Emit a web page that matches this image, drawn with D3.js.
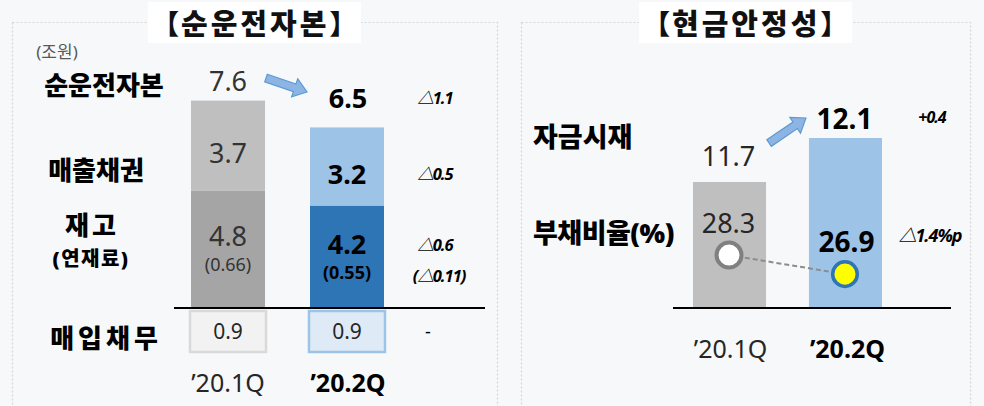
<!DOCTYPE html>
<html><head><meta charset="utf-8">
<script src="https://cdn.jsdelivr.net/npm/d3@7"></script>
<style>
html,body{margin:0;padding:0;background:#f7f8fa;}
svg{display:block;font-family:"Noto Sans","Noto Sans CJK KR",sans-serif;}
</style></head>
<body><svg id="c" width="984" height="406"></svg>
<script>
// ---- data ----
const periods = ["’20.1Q", "’20.2Q"];
const netWorkingCapital = [7.6, 6.5];
const receivables = [3.7, 3.2];
const inventory = [4.8, 4.2];
const rawMaterials = [0.66, 0.55];
const payables = [0.9, 0.9];
const nwcChanges = ["△1.1", "△0.5", "△0.6", "(△0.11)", "-"];
const cashHoldings = [11.7, 12.1];
const debtRatio = [28.3, 26.9];
const stabilityChanges = ["+0.4", "△1.4%p"];
const leftTitle = "순운전자본";
const rightTitle = "현금안정성";
const leftRowLabels = ["순운전자본", "매출채권", "재고", "(연재료)", "매입채무"];
const rightRowLabels = ["자금시재", "부채비율(%)"];
const unitLabel = "(조원)";

const svg = d3.select("#c");
const C = {lg:"#bfbfbf", dg:"#a5a5a5", lb:"#9dc3e6", db:"#2e75b6", txt:"#262626"};
const KW = 900;

function style(sel, o) {
  return sel.attr("text-anchor", o.anchor || "middle")
    .attr("dominant-baseline", "central")
    .attr("font-size", o.size || 24)
    .attr("font-weight", o.weight || (o.bold ? 700 : 400))
    .attr("font-style", o.italic ? "italic" : "normal")
    .attr("letter-spacing", o.ls || 0)
    .attr("fill", o.fill || C.txt);
}
function text(g, x, y, s, o = {}) {
  return style(g.append("text").attr("x", x).attr("y", y).text(s), o);
}
function text2(g, x, lines) {
  const t = g.append("text").attr("dominant-baseline", "central");
  lines.forEach(l => style(t.append("tspan").attr("x", x + (l.dx || 0)).attr("y", l.y).text(l.s), l));
  return t;
}

// panels
[[12.5, 485], [521.5, 449]].forEach(([x, w]) => {
  svg.append("rect").attr("x", x).attr("y", 22.5).attr("width", w).attr("height", 400)
    .attr("fill", "#f7f8fa").attr("stroke", "#d4d6da").attr("stroke-width", 1.2)
    .attr("stroke-dasharray", "2,2");
});
function title(boxX, startX, s) {
  svg.append("rect").attr("x", boxX).attr("y", 2).attr("width", 213).attr("height", 41).attr("fill", "#fff");
  const o = {size: 27, weight: KW, fill: "#111"};
  text2(svg, startX, [
    Object.assign({y: 23, s: "【", dx: -15.5}, o),
    Object.assign({y: 22.5, s: s, dx: 0}, o, {anchor: "start", size: 29, ls: 3}),
    Object.assign({y: 23, s: "】", dx: 162}, o)
  ]);
}
title(148, 181, leftTitle);
title(639, 672, rightTitle);

// ---------- left panel ----------
const baseY = 308;
const xL = d3.scaleBand().domain(periods).range([191, 384]).paddingInner(0.378).paddingOuter(0);
const yL = d3.scaleLinear().domain([0, 8.5]).range([baseY, baseY - 8.5 * 24.4]);
const bw = xL.bandwidth();
const gL = svg.append("g");

const stacks = periods.map((p, i) => ({p, i, inv: inventory[i], rec: receivables[i]}));
gL.selectAll("rect.inv").data(stacks).join("rect").attr("class", "inv")
  .attr("x", d => xL(d.p)).attr("width", bw)
  .attr("y", d => yL(d.inv)).attr("height", d => yL(0) - yL(d.inv))
  .attr("fill", d => d.i === 0 ? C.dg : C.db);
gL.selectAll("rect.rec").data(stacks).join("rect").attr("class", "rec")
  .attr("x", d => xL(d.p)).attr("width", bw)
  .attr("y", d => yL(d.inv + d.rec)).attr("height", d => yL(d.inv) - yL(d.inv + d.rec))
  .attr("fill", d => d.i === 0 ? C.lg : C.lb);

gL.append("line").attr("x1", 174).attr("x2", 485).attr("y1", baseY).attr("y2", baseY)
  .attr("stroke", "#000").attr("stroke-width", 2);

const payY = 311, payH = 41;
gL.selectAll("rect.pay").data(stacks).join("rect").attr("class", "pay")
  .attr("x", d => xL(d.p) - 1).attr("width", bw + 2)
  .attr("y", payY).attr("height", payH)
  .attr("fill", d => d.i === 0 ? "#f2f2f2" : "#deebf7")
  .attr("stroke", d => d.i === 0 ? "#d9d9d9" : "#9dc3e6").attr("stroke-width", 2.5);

stacks.forEach(d => {
  const cx = xL(d.p) + bw / 2;
  const bold = d.i === 1;
  const fill = bold ? "#000" : "#333";
  text(gL, cx, payY + payH / 2 - 1, payables[d.i].toFixed(1), {size: 21, fill: "#262626"});
  const recMid = (yL(d.inv) + yL(d.inv + d.rec)) / 2 + 7;
  text(gL, cx, recMid, d.rec.toFixed(1), {size: 27, bold, fill});
  const invMid = (yL(0) + yL(d.inv)) / 2;
  text2(gL, cx, [
    {y: invMid - 14, s: d.inv.toFixed(1), size: 27, bold, fill},
    {y: invMid + 15, s: "(" + rawMaterials[d.i].toFixed(2) + ")", size: 18, bold, fill}
  ]);
  text(gL, cx + (bold ? 1 : 0), 382, d.p, {size: 25, bold, fill: bold ? "#000" : "#262626"});
});
text(gL, xL(periods[0]) + bw / 2, yL(inventory[0] + receivables[0]) - 20, netWorkingCapital[0].toFixed(1), {size: 27, fill: "#333"});
text(gL, xL(periods[1]) + bw / 2 + 1, 97, netWorkingCapital[1].toFixed(1), {size: 27, bold: true, fill: "#000"});

function arrow(g, x1, y1, x2, y2) {
  const len = Math.hypot(x2 - x1, y2 - y1), ang = Math.atan2(y2 - y1, x2 - x1) * 180 / Math.PI;
  const sh = 4, hl = 13, hw = 9.5;
  const pts = [[0, -sh], [len - hl, -sh], [len - hl, -hw], [len, 0], [len - hl, hw], [len - hl, sh], [0, sh]];
  g.append("path").attr("d", d3.line()(pts) + "Z")
    .attr("transform", `translate(${x1},${y1}) rotate(${ang})`)
    .attr("fill", "#8db4e2").attr("stroke", "#5b9bd5").attr("stroke-width", 1.2);
}
arrow(gL, xL(periods[0]) + bw + 1, 78, xL(periods[1]) - 3, 92);

// row labels
text(gL, 104, 85, leftRowLabels[0], {size: 26, weight: KW, fill: "#000"});
text(gL, 96, 170, leftRowLabels[1], {size: 26, weight: KW, fill: "#000"});
text2(gL, 90, [
  {y: 225, s: leftRowLabels[2], size: 26, weight: KW, fill: "#000", ls: 3, dx: 2},
  {y: 258, s: leftRowLabels[3], size: 20, weight: KW, fill: "#000", ls: 1.5, dx: 1}
]);
text(gL, 106, 338, leftRowLabels[4], {size: 26, weight: KW, fill: "#000", ls: 4});
text(gL, 57, 51, unitLabel, {size: 17, fill: "#595959"});

// change column
const chX = 435;
const chRows = [97, 173, 244, 275, 331];
nwcChanges.forEach((s, i) => {
  if (i === 2 || i === 3) return;
  const dash = s === "-";
  text(gL, chX + (dash ? -7 : 0), chRows[i], s,
    {size: dash ? 18 : 16.5, bold: !dash, italic: !dash, fill: "#000", ls: dash ? 0 : -1});
});
text2(gL, chX, [
  {y: chRows[2], s: nwcChanges[2], size: 16.5, bold: true, italic: true, fill: "#000", ls: -1},
  {y: chRows[3], s: nwcChanges[3], size: 16.5, bold: true, italic: true, fill: "#000", ls: -1, dx: 4}
]);

// ---------- right panel ----------
const xR = d3.scaleBand().domain(periods).range([693, 882]).paddingInner(0.37).paddingOuter(0);
const yCash = d3.scaleLinear().domain([10.555, 12.1]).range([baseY, 138]);
const yDebt = d3.scaleLinear().domain([20, 30]).range([368, 232]);
const bwR = xR.bandwidth();
const gR = svg.append("g");
const cashData = periods.map((p, i) => ({p, i, v: cashHoldings[i], d: debtRatio[i]}));

gR.selectAll("rect.cash").data(cashData).join("rect").attr("class", "cash")
  .attr("x", d => xR(d.p)).attr("width", bwR)
  .attr("y", d => yCash(d.v)).attr("height", d => baseY - yCash(d.v))
  .attr("fill", d => d.i === 0 ? C.lg : C.lb);
gR.append("line").attr("x1", 673).attr("x2", 951).attr("y1", baseY).attr("y2", baseY)
  .attr("stroke", "#000").attr("stroke-width", 2);

const line = d3.line().x(d => xR(d.p) + bwR / 2 - 0.5).y(d => yDebt(d.d));
gR.append("path").attr("d", line(cashData)).attr("fill", "none")
  .attr("stroke", "#8c8c8c").attr("stroke-width", 2).attr("stroke-dasharray", "5,3");
gR.selectAll("circle").data(cashData).join("circle")
  .attr("cx", d => xR(d.p) + bwR / 2 - 0.5).attr("cy", d => yDebt(d.d))
  .attr("r", d => d.i === 0 ? 12.5 : 12.3)
  .attr("fill", d => d.i === 0 ? "#fff" : "#ffff00")
  .attr("stroke", d => d.i === 0 ? "#808080" : "#2e75b6").attr("stroke-width", d => d.i === 0 ? 4 : 3.5);

cashData.forEach(d => {
  const cx = xR(d.p) + bwR / 2;
  const bold = d.i === 1;
  const fill = bold ? "#000" : "#262626";
  text(gR, cx - 1, yCash(d.v) - (bold ? 20 : 27), d.v.toFixed(1), {size: bold ? 28 : 27, bold, fill});
  text(gR, cx + (bold ? 1 : -1), bold ? 241 : 222, d.d.toFixed(1), {size: bold ? 28 : 27, bold, fill});
  text(gR, cx + (bold ? 2 : 1), 348, d.p, {size: 25, bold, fill: bold ? "#000" : "#262626"});
});
arrow(gR, xR(periods[0]) + bwR + 3, 143, xR(periods[1]) - 3, 118);

text(gR, 533, 136, rightRowLabels[0], {size: 27, weight: KW, fill: "#000", anchor: "start"});
text(gR, 533, 232, rightRowLabels[1], {size: 27, weight: KW, fill: "#000", anchor: "start", ls: -0.5});
text(gR, 932, 117, stabilityChanges[0], {size: 16, bold: true, italic: true, fill: "#000", ls: -1});
text(gR, 930, 235, stabilityChanges[1], {size: 18, bold: true, italic: true, fill: "#000", ls: -1});
</script></body></html>
